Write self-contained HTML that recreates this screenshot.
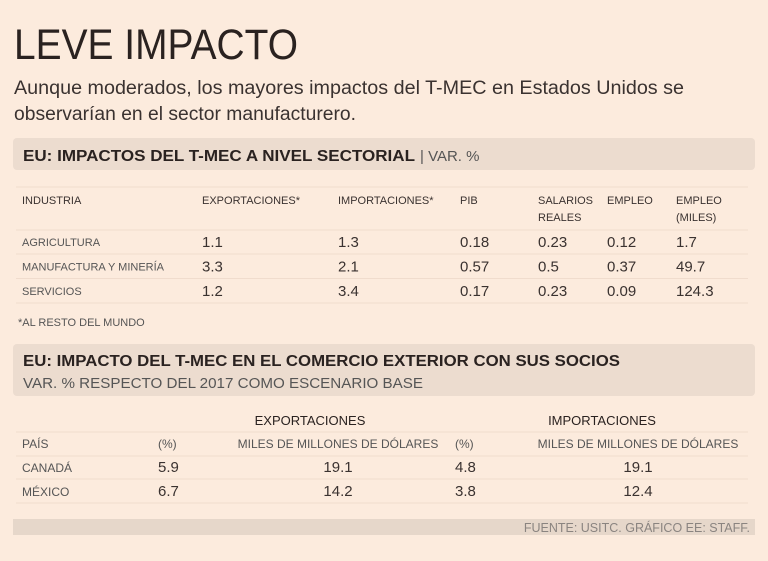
<!DOCTYPE html>
<html><head><meta charset="utf-8"><style>
body{margin:0;background:#fcebdd;}
svg{display:block;font-family:"Liberation Sans",sans-serif;}
</style></head><body>
<svg width="768" height="561" viewBox="0 0 768 561">
<rect x="0" y="0" width="768" height="561" fill="#fcebdd"/>
<text x="14" y="59" font-size="43" fill="#2a2220" textLength="284" lengthAdjust="spacingAndGlyphs">LEVE IMPACTO</text>
<text x="14" y="94" font-size="19" fill="#3a3230" textLength="670" lengthAdjust="spacingAndGlyphs">Aunque moderados, los mayores impactos del T-MEC en Estados Unidos se</text>
<text x="14" y="120" font-size="19" fill="#3a3230" textLength="342" lengthAdjust="spacingAndGlyphs">observarían en el sector manufacturero.</text>

<rect x="13" y="138" width="742" height="32" rx="4" fill="#ecdccf"/>
<text x="23" y="161" font-size="15.5" font-weight="bold" fill="#2a2220" textLength="392" lengthAdjust="spacingAndGlyphs">EU: IMPACTOS DEL T-MEC A NIVEL SECTORIAL</text>
<text x="420" y="161" font-size="15" fill="#555">| VAR. %</text>

<g id="t1"></g>
<text x="18" y="326" font-size="11" fill="#555">*AL RESTO DEL MUNDO</text>

<rect x="13" y="344" width="742" height="52" rx="4" fill="#ecdccf"/>
<text x="23" y="366" font-size="15.5" font-weight="bold" fill="#2a2220" textLength="597" lengthAdjust="spacingAndGlyphs">EU: IMPACTO DEL T-MEC EN EL COMERCIO EXTERIOR CON SUS SOCIOS</text>
<text x="23" y="388" font-size="15" fill="#555" textLength="400" lengthAdjust="spacingAndGlyphs">VAR. % RESPECTO DEL 2017 COMO ESCENARIO BASE</text>

<g id="t2"></g>

<rect x="13" y="519" width="742" height="16" fill="#e6d7ca"/>
<text x="750" y="532" font-size="12.5" fill="#8a8480" text-anchor="end">FUENTE: USITC. GRÁFICO EE: STAFF.</text>
</svg>
<script>
const NS='http://www.w3.org/2000/svg';
const industries=['AGRICULTURA','MANUFACTURA Y MINERÍA','SERVICIOS'];
const exportsPct=['1.1','3.3','1.2'];
const importsPct=['1.3','2.1','3.4'];
const gdp=['0.18','0.57','0.17'];
const wages=['0.23','0.5','0.23'];
const employment=['0.12','0.37','0.09'];
const employmentK=['1.7','49.7','124.3'];
const countries=['CANADÁ','MÉXICO'];
const expPct=['5.9','6.7'];
const expUsd=['19.1','14.2'];
const impPct=['4.8','3.8'];
const impUsd=['19.1','12.4'];

function txt(g,x,y,s,size,fill,anchor){
  const t=document.createElementNS(NS,'text');
  t.setAttribute('x',x);t.setAttribute('y',y);t.setAttribute('font-size',size);
  t.setAttribute('fill',fill);if(anchor)t.setAttribute('text-anchor',anchor);
  t.textContent=s;g.appendChild(t);return t;
}
function line(g,x1,x2,y){
  const l=document.createElementNS(NS,'line');
  l.setAttribute('x1',x1);l.setAttribute('x2',x2);l.setAttribute('y1',y);l.setAttribute('y2',y);
  l.setAttribute('stroke','#f0dccd');l.setAttribute('stroke-width','1');
  g.appendChild(l);return l;
}
const t1=document.getElementById('t1');
const cols=[22,202,338,460,538,607,676];
line(t1,16,748,187);
const heads=[['INDUSTRIA'],['EXPORTACIONES*'],['IMPORTACIONES*'],['PIB'],['SALARIOS','REALES'],['EMPLEO'],['EMPLEO','(MILES)']];
heads.forEach((h,i)=>h.forEach((s,j)=>{
  const e=txt(t1,cols[i],204+j*17,s,11,'#3a3230');
  
  
}));
line(t1,16,748,230);
const cells=[industries,exportsPct,importsPct,gdp,wages,employment,employmentK];
industries.forEach((_,r)=>{
  const y=246+r*24.5;
  cells.forEach((col,c)=>{
    const e=txt(t1,cols[c],c===0?y:y+1,col[r],c===0?11:15,c===0?'#555':'#3a3230');
    
    
  });
  line(t1,16,748,254+r*24.5);
});

const t2=document.getElementById('t2');
let e=txt(t2,310,425,'EXPORTACIONES',13,'#2a2220','middle');


e=txt(t2,602,425,'IMPORTACIONES',13,'#2a2220','middle');


line(t2,16,748,432);
const c2=[22,158,338,455,638];
const h2=[['PAÍS','start'],['(%)','start'],['MILES DE MILLONES DE DÓLARES','middle'],['(%)','start'],['MILES DE MILLONES DE DÓLARES','middle']];
h2.forEach((h,i)=>{
  const e=txt(t2,c2[i],448,h[0],12,'#555',h[1]);
  
  
});
line(t2,16,748,456);
const cols2=[countries,expPct,expUsd,impPct,impUsd];
countries.forEach((_,r)=>{
  const y=472+r*24;
  cols2.forEach((col,c)=>{
    const e=txt(t2,c2[c],y,col[r],c===0?12:15,c===0?'#555':'#3a3230',h2[c][1]);
    
    
  });
  line(t2,16,748,479+r*24);
});
</script>
</body></html>
